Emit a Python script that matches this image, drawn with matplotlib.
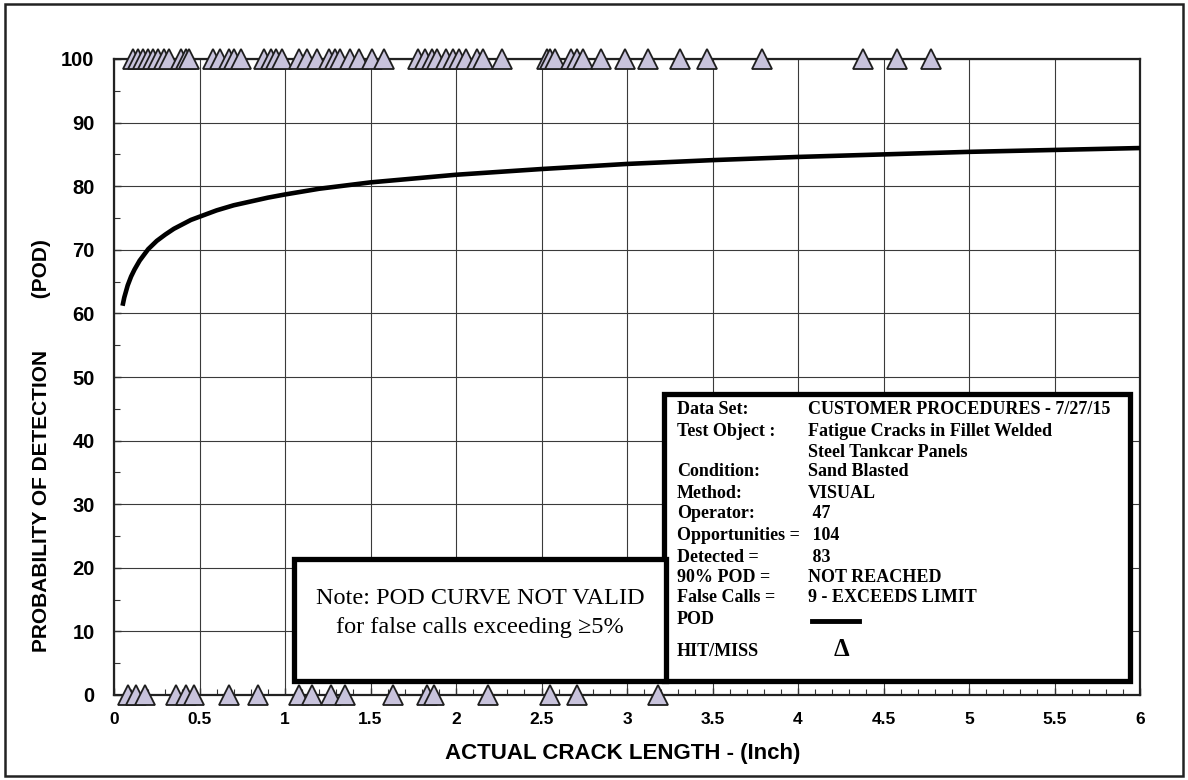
import matplotlib
matplotlib.use("Agg")
import matplotlib.pyplot as plt
from matplotlib.patches import Rectangle
from matplotlib.ticker import MultipleLocator

# ---------------- data ----------------
curve_x = [0.05, 0.06, 0.08, 0.10, 0.12, 0.15, 0.20, 0.25, 0.30, 0.35, 0.40, 0.45, 0.50,
           0.60, 0.70, 0.80, 0.90, 1.0, 1.2, 1.5, 1.75, 2.0, 2.5, 3.0, 3.5, 4.0, 4.5,
           5.0, 5.5, 6.0]
curve_pod = [61.2, 62.5, 64.4, 65.8, 66.9, 68.3, 70.1, 71.4, 72.4, 73.3, 74.0, 74.7, 75.2,
             76.2, 77.0, 77.6, 78.2, 78.7, 79.6, 80.6, 81.2, 81.8, 82.7, 83.5, 84.1, 84.6,
             85.0, 85.4, 85.7, 86.0]

hit_x = [0.11, 0.14, 0.17, 0.20, 0.23, 0.26, 0.29, 0.32, 0.39, 0.42, 0.44,
         0.58, 0.62, 0.67, 0.70, 0.74,
         0.88, 0.92, 0.95, 0.98, 1.08, 1.13, 1.19, 1.26, 1.29, 1.32, 1.38, 1.43, 1.51, 1.58,
         1.78, 1.82, 1.86, 1.89, 1.94, 1.98, 2.02, 2.06, 2.12, 2.16, 2.27,
         2.53, 2.55, 2.58, 2.67, 2.71, 2.74, 2.85, 2.99, 3.12, 3.31, 3.47,
         3.79, 4.38, 4.58, 4.78]
miss_x = [0.08, 0.13, 0.18, 0.36, 0.42, 0.47, 0.67, 0.84, 1.08, 1.16, 1.27, 1.35,
          1.63, 1.83, 1.87, 2.19, 2.55, 2.71, 3.18]

x_ticks = [0, 0.5, 1, 1.5, 2, 2.5, 3, 3.5, 4, 4.5, 5, 5.5, 6]
x_tick_labels = ["0", "0.5", "1", "1.5", "2", "2.5", "3", "3.5", "4", "4.5", "5", "5.5", "6"]
y_ticks = [0, 10, 20, 30, 40, 50, 60, 70, 80, 90, 100]

legend_labels = ["Data Set:", "Test Object :", "", "Condition:", "Method:", "Operator:",
                 "Opportunities =", "Detected =", "90% POD =", "False Calls =", "POD"]
legend_values = ["CUSTOMER PROCEDURES - 7/27/15", "Fatigue Cracks in Fillet Welded",
                 "Steel Tankcar Panels", "Sand Blasted", "VISUAL", " 47", " 104", " 83",
                 "NOT REACHED", "9 - EXCEEDS LIMIT", ""]

# ---------------- figure ----------------
W, H = 1188, 780
fig = plt.figure(figsize=(W / 100, H / 100), dpi=100)
fig.patch.set_facecolor("white")


def fx(px):
    return px / W


def fy(py):
    return 1 - py / H


# outer frame
fig.add_artist(Rectangle((fx(5), fy(776)), fx(1178), (776 - 4) / H, transform=fig.transFigure,
                         fill=False, edgecolor="#222222", linewidth=1.8, zorder=0))

ax = fig.add_axes([fx(114), fy(695), fx(1140) - fx(114), fy(59) - fy(695)])
ax.set_xlim(0, 6)
ax.set_ylim(0, 100)

sans = "Liberation Sans"
serif = "Liberation Serif"

ax.set_xticks(x_ticks)
ax.set_xticklabels(x_tick_labels, fontfamily=sans, fontweight="bold", fontsize=12.5)
ax.set_yticks(y_ticks)
ax.set_yticklabels([str(v) for v in y_ticks], fontfamily=sans, fontweight="bold", fontsize=14.5)
ax.xaxis.set_minor_locator(MultipleLocator(0.1))
ax.yaxis.set_minor_locator(MultipleLocator(5))
ax.tick_params(which="both", direction="in", color="#333333")
ax.tick_params(which="major", length=5, width=1)
ax.tick_params(which="minor", length=4, width=0.8)
ax.tick_params(axis="x", which="major", pad=12)
ax.tick_params(axis="y", which="major", pad=14)
ax.grid(True, which="major", color="#3a3a3a", linewidth=0.8)
for s in ax.spines.values():
    s.set_linewidth(1.6)
    s.set_color("#222222")
ax.set_axisbelow(True)

ax.plot(curve_x, curve_pod, color="black", linewidth=3.3, solid_capstyle="butt",
        solid_joinstyle="round", zorder=4)

tri_kw = dict(linestyle="none", marker="^", markersize=14.5, markerfacecolor="#c8c3dc",
              markeredgecolor="#1e1e1e", markeredgewidth=1.3, clip_on=False, zorder=6)
ax.plot(hit_x, [100] * len(hit_x), **tri_kw)
ax.plot(miss_x, [0] * len(miss_x), **tri_kw)

# axis titles
fig.text(fx(623), fy(753), "ACTUAL CRACK LENGTH - (Inch)", ha="center", va="center",
         fontfamily=sans, fontweight="bold", fontsize=16)
fig.text(fx(42), fy(446), "PROBABILITY OF DETECTION         (POD)", ha="center", va="center",
         rotation=90, fontfamily=sans, fontweight="bold", fontsize=15)

# legend box
fig.add_artist(Rectangle((fx(664), fy(681)), fx(1130) - fx(664), fy(394) - fy(681),
                         transform=fig.transFigure, facecolor="white", edgecolor="black",
                         linewidth=3.8, zorder=10))
row_y = [410, 431, 452, 472, 493, 514, 536, 557, 577, 598, 620]
for lab, val, yy in zip(legend_labels, legend_values, row_y):
    fig.text(fx(677), fy(yy), lab, ha="left", va="center", fontfamily=serif,
             fontweight="bold", fontsize=13, zorder=11)
    fig.text(fx(808), fy(yy), val, ha="left", va="center", fontfamily=serif,
             fontweight="bold", fontsize=13, zorder=11)
fig.add_artist(plt.Line2D([fx(812), fx(859)], [fy(621), fy(621)], transform=fig.transFigure,
                          color="black", linewidth=3.5, zorder=11))
fig.text(fx(677), fy(651), "HIT/MISS", ha="left", va="center", fontfamily=serif,
         fontweight="bold", fontsize=13, zorder=11)
fig.text(fx(841), fy(649), "\u0394", ha="center", va="center", fontfamily=serif,
         fontweight="bold", fontsize=18, zorder=11)

# note box
fig.add_artist(Rectangle((fx(294), fy(681)), fx(666) - fx(294), fy(559) - fy(681),
                         transform=fig.transFigure, facecolor="white", edgecolor="black",
                         linewidth=3.8, zorder=12))
fig.text(fx(480), fy(598), "Note: POD CURVE NOT VALID", ha="center", va="center",
         fontfamily=serif, fontsize=17.5, zorder=13)
fig.text(fx(480), fy(628), "for false calls exceeding \u22655%", ha="center", va="center",
         fontfamily=serif, fontsize=17.5, zorder=13)

fig.savefig("out.png", dpi=100, facecolor="white")
